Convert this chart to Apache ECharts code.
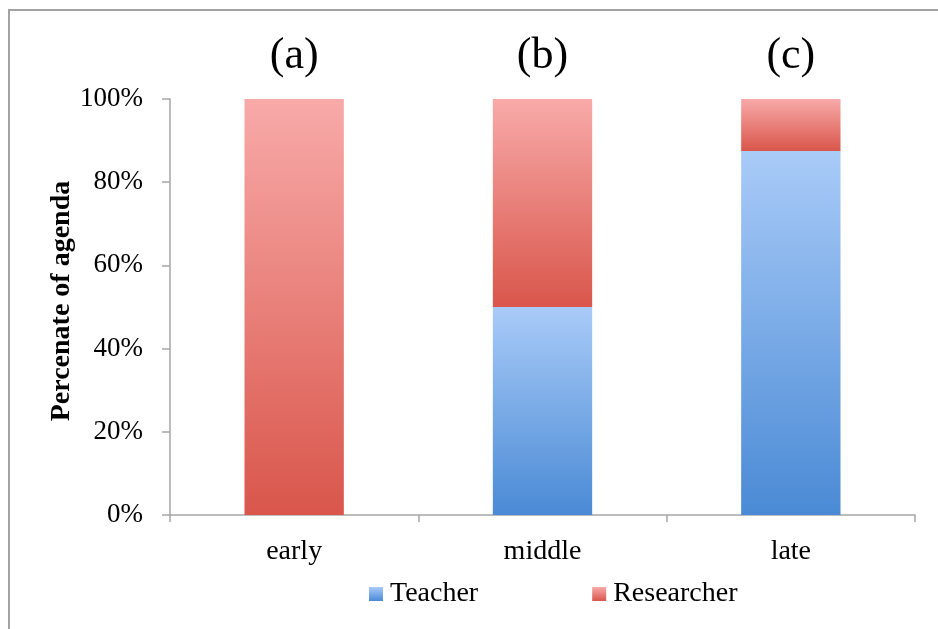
<!DOCTYPE html>
<html><head><meta charset="utf-8">
<script src="https://cdn.jsdelivr.net/npm/echarts@6/dist/echarts.min.js"></script>
<style>html,body{margin:0;padding:0;background:#fff}#c{width:938px;height:629px}</style>
</head><body><div id="c"></div>
<script>
const categories = ['early', 'middle', 'late'];
const panelLabels = ['(a)', '(b)', '(c)'];
const teacher = [0, 50, 87.5];
const researcher = [100, 50, 12.5];
const yTicks = [0, 20, 40, 60, 80, 100];

const FONT = '"Liberation Serif", "Times New Roman", serif';
const grad = (top, bottom) => new echarts.graphic.LinearGradient(0, 0, 0, 1, [
  {offset: 0, color: top}, {offset: 1, color: bottom}]);
const blue = grad('#a9cbf8', '#4a8ad5');
const red = grad('#f8aaa9', '#d9564b');

const chart = echarts.init(document.getElementById('c'), null, {renderer: 'canvas'});
chart.setOption({
  backgroundColor: '#fff',
  animation: false,
  graphic: [{
    type: 'rect', shape: {x: 9, y: 10, width: 1200, height: 1200},
    style: {fill: 'none', stroke: '#a3a3a3', lineWidth: 2}, z: -1
  }],
  grid: {left: 170, right: 23, top: 99, bottom: 114, containLabel: false},
  legend: {
    data: [{name: 'Teacher', itemStyle: {color: blue}}, {name: 'Researcher', itemStyle: {color: red}}],
    left: 364, top: 575, itemWidth: 14, itemHeight: 14, itemGap: 114, icon: 'rect',
    textStyle: {fontFamily: FONT, fontSize: 28, color: '#000', padding: [0, 0, 0, 2]}
  },
  xAxis: {
    type: 'category', data: categories,
    axisLine: {lineStyle: {color: '#a6a6a6', width: 1.5}},
    axisTick: {show: true, length: 7, alignWithLabel: false, lineStyle: {color: '#a6a6a6', width: 1.5}},
    axisLabel: {fontFamily: FONT, fontSize: 28, color: '#000', margin: 23}
  },
  yAxis: {
    type: 'value', min: 0, max: 100, interval: 20,
    name: 'Percenate of agenda', nameLocation: 'middle', nameGap: 94, nameMoveOverlap: false,
    nameTextStyle: {fontFamily: FONT, fontSize: 28, fontWeight: 'bold', color: '#000', padding: [0, 0, 0, 12]},
    axisLine: {show: true, lineStyle: {color: '#a6a6a6', width: 1.5}},
    axisTick: {show: true, length: 8, lineStyle: {color: '#a6a6a6', width: 1.5}},
    splitLine: {show: false},
    axisLabel: {fontFamily: FONT, fontSize: 27, color: '#000', margin: 27,
      formatter: v => yTicks.includes(v) ? v + '%' : ''}
  },
  series: [{
    name: 'Teacher', type: 'bar', stack: 's', barWidth: '40%', data: teacher,
    itemStyle: {color: blue}
  }, {
    name: 'Researcher', type: 'bar', stack: 's', barWidth: '40%', data: researcher,
    itemStyle: {color: red},
    label: {show: true, position: 'top', distance: 21, fontFamily: FONT, fontSize: 44, color: '#000',
      formatter: p => panelLabels[p.dataIndex]}
  }]
});
</script></body></html>
